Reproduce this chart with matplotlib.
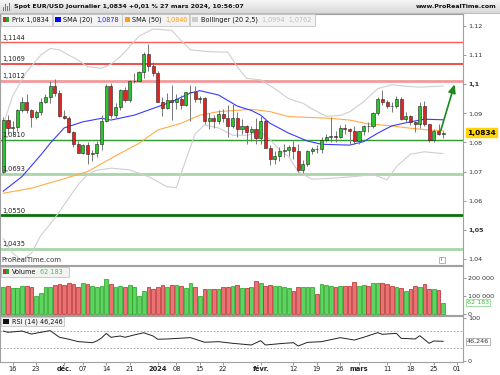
import matplotlib.pyplot as plt
import matplotlib.patches as mpatches
from matplotlib.colors import LinearSegmentedColormap
import numpy as np
import pandas as pd

plt.rcParams['font.family'] = ['DejaVu Sans']

# daily EUR/USD candles, 14 Nov 2023 -> 27 Mar 2024 (no 25 Dec / 1 Jan)
opens = [1.0700, 1.0878, 1.0849, 1.0852, 1.0912, 1.0940, 1.0910, 1.0888, 1.0905, 1.0940,
         1.0955, 1.0995, 1.0970, 1.0890, 1.0884, 1.0837, 1.0795, 1.0765, 1.0790, 1.0762,
         1.0765, 1.0795, 1.0875, 1.0993, 1.0895, 1.0922, 1.0980, 1.0945, 1.1010, 1.1012,
         1.1043, 1.1105, 1.1061, 1.1038, 1.0940, 1.0920, 1.0946, 1.0940, 1.0950, 1.0930,
         1.0972, 1.0975, 1.0950, 1.0952, 1.0875, 1.0885, 1.0875, 1.0897, 1.0885, 1.0855,
         1.0885, 1.0845, 1.0855, 1.0835, 1.0845, 1.0815, 1.0873, 1.0780, 1.0742, 1.0755,
         1.0772, 1.0775, 1.0785, 1.0772, 1.0707, 1.0727, 1.0772, 1.0777, 1.0777, 1.0808,
         1.0820, 1.0823, 1.0820, 1.0850, 1.0845, 1.0838, 1.0805, 1.0838, 1.0855, 1.0855,
         1.0900, 1.0948, 1.0938, 1.0927, 1.0925, 1.0950, 1.0880, 1.0890, 1.0870, 1.0865,
         1.0925, 1.0862, 1.0808, 1.0838, 1.0830]
highs = [1.0887, 1.0895, 1.0875, 1.0915, 1.0956, 1.0965, 1.0915, 1.0910, 1.0953, 1.0965,
         1.1010, 1.1017, 1.0980, 1.0910, 1.0890, 1.0840, 1.0805, 1.0795, 1.0800, 1.0775,
         1.0805, 1.0895, 1.1000, 1.1005, 1.0935, 1.0985, 1.0990, 1.1015, 1.1040, 1.1045,
         1.1112, 1.1139, 1.1078, 1.1045, 1.0955, 1.0970, 1.0998, 1.0965, 1.0962, 1.0975,
         1.0998, 1.0995, 1.0960, 1.0957, 1.0900, 1.0895, 1.0910, 1.0915, 1.0930, 1.0932,
         1.0905, 1.0880, 1.0860, 1.0855, 1.0885, 1.0890, 1.0885, 1.0790, 1.0770, 1.0785,
         1.0795, 1.0790, 1.0805, 1.0795, 1.0740, 1.0775, 1.0785, 1.0790, 1.0820, 1.0830,
         1.0888, 1.0840, 1.0860, 1.0865, 1.0850, 1.0855, 1.0840, 1.0860, 1.0870, 1.0905,
         1.0955, 1.0981, 1.0945, 1.0940, 1.0960, 1.0955, 1.0905, 1.0895, 1.0875, 1.0940,
         1.0942, 1.0865, 1.0845, 1.0865, 1.0838]
lows = [1.0694, 1.0828, 1.0830, 1.0840, 1.0905, 1.0902, 1.0852, 1.0880, 1.0895, 1.0935,
        1.0935, 1.0960, 1.0888, 1.0880, 1.0832, 1.0785, 1.0765, 1.0760, 1.0725, 1.0735,
        1.0750, 1.0775, 1.0870, 1.0885, 1.0885, 1.0910, 1.0940, 1.0940, 1.1005, 1.1010,
        1.1020, 1.1046, 1.1030, 1.0940, 1.0892, 1.0915, 1.0876, 1.0915, 1.0915, 1.0925,
        1.0875, 1.0940, 1.0935, 1.0865, 1.0845, 1.0850, 1.0865, 1.0870, 1.0820, 1.0850,
        1.0820, 1.0830, 1.0795, 1.0805, 1.0795, 1.0795, 1.0780, 1.0723, 1.0725, 1.0735,
        1.0750, 1.0755, 1.0745, 1.0700, 1.0695, 1.0720, 1.0760, 1.0765, 1.0765, 1.0800,
        1.0800, 1.0800, 1.0815, 1.0830, 1.0795, 1.0795, 1.0795, 1.0825, 1.0835, 1.0850,
        1.0895, 1.0930, 1.0920, 1.0905, 1.0920, 1.0878, 1.0870, 1.0860, 1.0835, 1.0850,
        1.0857, 1.0802, 1.0800, 1.0825, 1.0815]
closes = [1.0878, 1.0849, 1.0852, 1.0912, 1.0940, 1.0910, 1.0888, 1.0905, 1.0940, 1.0955,
          1.0995, 1.0970, 1.0890, 1.0884, 1.0837, 1.0795, 1.0765, 1.0790, 1.0762, 1.0765,
          1.0795, 1.0875, 1.0993, 1.0895, 1.0922, 1.0980, 1.0945, 1.1010, 1.1012, 1.1043,
          1.1105, 1.1061, 1.1038, 1.0940, 1.0920, 1.0946, 1.0940, 1.0950, 1.0930, 1.0972,
          1.0975, 1.0950, 1.0952, 1.0875, 1.0885, 1.0875, 1.0897, 1.0885, 1.0855, 1.0885,
          1.0845, 1.0855, 1.0835, 1.0845, 1.0815, 1.0873, 1.0780, 1.0742, 1.0755, 1.0772,
          1.0775, 1.0785, 1.0772, 1.0707, 1.0727, 1.0772, 1.0777, 1.0777, 1.0808, 1.0820,
          1.0823, 1.0820, 1.0850, 1.0845, 1.0838, 1.0805, 1.0838, 1.0855, 1.0855, 1.0900,
          1.0948, 1.0938, 1.0927, 1.0925, 1.0950, 1.0880, 1.0890, 1.0870, 1.0865, 1.0925,
          1.0862, 1.0808, 1.0838, 1.0830, 1.0834]
volumes = [150, 157, 144, 144, 157, 159, 150, 103, 119, 153,
           153, 164, 168, 162, 172, 168, 150, 172, 168, 157,
           153, 159, 194, 168, 150, 157, 150, 162, 150, 101,
           127, 153, 140, 153, 162, 153, 162, 162, 157, 144,
           172, 150, 103, 140, 140, 140, 140, 153, 153, 159,
           161, 144, 144, 150, 187, 175, 157, 161, 159, 159,
           150, 144, 131, 150, 150, 150, 150, 112, 166, 164,
           159, 150, 155, 157, 157, 181, 157, 164, 159, 175,
           172, 172, 168, 159, 150, 144, 131, 138, 157, 150,
           166, 138, 138, 134, 62.183]  # thousands

# indicator curves (bar index, value)
sma20_idx = [0, 4, 8, 10, 13, 17, 21, 23, 28, 32, 36, 40, 42, 46, 50, 53, 55, 57, 61, 65, 68, 74, 77, 80, 83, 87, 90, 94]
sma20_val = [1.0633, 1.0683, 1.0757, 1.0797, 1.0850, 1.0871, 1.0883, 1.0877, 1.0894, 1.0917,
             1.0940, 1.0970, 1.0978, 1.0963, 1.0925, 1.0910, 1.0894, 1.0866, 1.0832, 1.0805,
             1.0794, 1.0791, 1.0803, 1.0832, 1.0857, 1.0871, 1.0880, 1.0878]
sma50_idx = [0, 6, 12, 18, 25, 29, 33, 38, 42, 46, 53, 57, 61, 70, 74, 78, 83, 87, 91, 94]
sma50_val = [1.0626, 1.0643, 1.0671, 1.0700, 1.0763, 1.0797, 1.0843, 1.0866, 1.0894, 1.0906,
             1.0914, 1.0906, 1.0889, 1.0883, 1.0877, 1.0864, 1.0857, 1.0849, 1.0843, 1.0840]
bb_up_idx = [0, 2, 5, 8, 10, 12, 14, 16, 18, 21, 23, 25, 27, 29, 32, 36, 38, 40, 44, 48,
             50, 52, 55, 58, 61, 64, 66, 69, 72, 74, 77, 80, 83, 86, 89, 94]
bb_up_val = [1.0862, 1.0960, 1.1043, 1.1100, 1.1123, 1.1118, 1.1100, 1.1083, 1.1060, 1.1055,
             1.1069, 1.1095, 1.1129, 1.1165, 1.1190, 1.1185, 1.1150, 1.1118, 1.1112, 1.1110,
             1.1060, 1.1020, 1.1015, 1.0985, 1.0950, 1.0935, 1.0915, 1.0890, 1.0893, 1.0905,
             1.0940, 1.0985, 1.0998, 1.0993, 1.0990, 1.0994]
bb_lo_idx = [0, 2, 4, 6, 8, 10, 12, 14, 16, 18, 20, 23, 27, 31, 35, 37, 39, 41, 43, 46,
             49, 52, 55, 57, 59, 61, 63, 66, 70, 75, 79, 82, 84, 87, 90, 94]
bb_lo_val = [1.0470, 1.0420, 1.0395, 1.0420, 1.0480, 1.0520, 1.0562, 1.0610, 1.0655, 1.0690,
             1.0705, 1.0712, 1.0706, 1.0683, 1.0648, 1.0645, 1.0740, 1.0830, 1.0860, 1.0850,
             1.0825, 1.0825, 1.0835, 1.0810, 1.0775, 1.0751, 1.0700, 1.0674, 1.0677, 1.0683,
             1.0690, 1.0672, 1.0717, 1.0760, 1.0768, 1.0762]
rsi_idx = [0, 1, 4, 6, 8, 10, 12, 14, 16, 18, 19, 20, 21, 22, 23, 25, 26, 28, 30, 32,
           33, 35, 40, 43, 46, 49, 53, 55, 56, 60, 62, 63, 65, 68, 72, 75, 77, 80, 81, 84,
           85, 88, 89, 91, 92, 94]
rsi_val = [70, 67, 70, 63, 67, 71, 55.5, 51, 45.5, 44, 43, 47, 54, 64.6, 55.5, 58.5, 55.5, 61, 66, 58.5,
           51, 51.6, 54.7, 44, 45.4, 41.6, 37.7, 47.7, 37.7, 41.6, 43, 35.4, 43.8, 45.4, 54.7, 49.2, 55.5, 66.2, 62.4, 64.6,
           53.2, 51.6, 59.2, 41.6, 47, 46.2]

levels = [1.1144, 1.1069, 1.1012, 1.0810, 1.0693, 1.0550, 1.0435]
level_labels = ['1,1144', '1,1069', '1,1012', '1,0810', '1,0693', '1,0550', '1,0435']
level_colors = ['#ff5a5a', '#ee3030', '#f29a9a', '#2f9a2f', '#a9d6a9', '#0b720b', '#a9d6a9']
level_widths = [1.0, 1.2, 2.0, 1.0, 2.0, 2.0, 2.0]

price_ticks = [1.04, 1.05, 1.06, 1.07, 1.08, 1.09, 1.10, 1.11, 1.12]
price_tick_labels = ['1,04', '1,05', '1,06', '1,07', '1,08', '1,09', '1,1', '1,11', '1,12']

day_labels = {'2023-11-16': '16', '2023-11-23': '23', '2023-12-01': 'déc.', '2023-12-07': '07',
              '2023-12-14': '14', '2023-12-21': '21', '2024-01-02': '2024', '2024-01-08': '08',
              '2024-01-15': '15', '2024-01-22': '22', '2024-02-01': 'févr.', '2024-02-12': '12',
              '2024-02-19': '19', '2024-02-26': '26', '2024-03-01': 'mars', '2024-03-11': '11',
              '2024-03-18': '18', '2024-03-25': '25', '2024-04-01': '01'}

days = pd.bdate_range('2023-11-14', '2024-04-05')
days = days[~days.isin(pd.to_datetime(['2023-12-25', '2024-01-01']))]

W, H = 500, 375


def box(x0, y0, x1, y1):
    return [x0 / W, 1 - y1 / H, (x1 - x0) / W, (y1 - y0) / H]


fig = plt.figure(figsize=(5, 3.75), dpi=100)
fig.patch.set_facecolor('white')

ax = fig.add_axes(box(0, 14, 463, 265))
axv = fig.add_axes(box(0, 266, 463, 315), sharex=ax)
axr = fig.add_axes(box(0, 316, 463, 362), sharex=ax)

idx = np.arange(len(closes))
o = np.array(opens)
c = np.array(closes)
up = c > o
lo = np.minimum(o, c)
hgt = np.maximum(np.abs(c - o), 0.00016)

for a in (ax, axv, axr):
    for s in a.spines.values():
        s.set_color('#a0a0a0')
        s.set_linewidth(0.8)
    a.yaxis.tick_right()
    a.tick_params(axis='y', length=2, width=0.6, colors='#888888', labelcolor='#333333',
                  labelsize=4.6, pad=1.5)
    a.tick_params(axis='x', bottom=False, labelbottom=False)

# price panel
for lv, lc, lw, lb in zip(levels, level_colors, level_widths, level_labels):
    ax.axhline(lv, color=lc, lw=lw, zorder=1)
    ax.text(-0.3, lv + 0.0006, lb, fontsize=4.8, color='#222222', va='bottom', ha='left', zorder=6)

ax.plot(bb_up_idx, bb_up_val, color='#cfcfcf', lw=0.8, zorder=2)
ax.plot(bb_lo_idx, bb_lo_val, color='#cfcfcf', lw=0.8, zorder=2)
ax.plot(sma50_idx, sma50_val, color='#ffac4a', lw=0.8, zorder=2)
ax.plot(sma20_idx, sma20_val, color='#3a3aff', lw=0.8, zorder=2)

ax.vlines(idx, lows, highs, color='#777777', lw=0.7, zorder=3)
ax.bar(idx[up], hgt[up], bottom=lo[up], width=0.66, color='#2ec22e', edgecolor='#222222', lw=0.4, zorder=4)
ax.bar(idx[~up], hgt[~up], bottom=lo[~up], width=0.66, color='#e02424', edgecolor='#222222', lw=0.4, zorder=4)

ax.annotate('', xy=(96.6, 1.1009), xytext=(93.3, 1.0832),
            arrowprops=dict(arrowstyle='-|>,head_length=0.5,head_width=0.22', color='#1a8a1a', lw=1.2),
            zorder=7)

ax.set_xlim(-0.705, 98.23)
ax.set_ylim(1.03794, 1.12412)
ax.set_yticks(price_ticks, price_tick_labels)
for t in ax.get_yticklabels():
    if t.get_text() in ('1,1', '1,05'):
        t.set_fontweight('bold')
ax.annotate('1,0834', xy=(1.0, closes[-1]), xycoords=('axes fraction', 'data'),
            xytext=(3, 0), textcoords='offset points', fontsize=5.3, fontweight='bold',
            va='center', ha='left', annotation_clip=False,
            bbox=dict(boxstyle='square,pad=0.15', fc='#ffd400', ec='#ffd400'))
ax.text(0.004, 0.012, 'ProRealTime.com', transform=ax.transAxes, fontsize=5, color='#333333')

# volume panel
vol = np.array(volumes) * 1000
axv.bar(idx[up], vol[up], width=0.8, color='#5fd35f', edgecolor='#1f9f1f', lw=0.5)
axv.bar(idx[~up], vol[~up], width=0.8, color='#eb7272', edgecolor='#b52727', lw=0.5)
axv.set_ylim(-5600, 268900)
axv.set_yticks([0, 100000, 200000], ['0', '100 000', '200 000'])
axv.annotate('62 183', xy=(1.0, vol[-1]), xycoords=('axes fraction', 'data'),
             xytext=(3, 0), textcoords='offset points', fontsize=4.6, color='#3bbf3b',
             va='center', ha='left', annotation_clip=False,
             bbox=dict(boxstyle='square,pad=0.15', fc='white', ec='#8fdc8f', lw=0.6))

# RSI panel
axr.axhline(70, color='#999999', lw=0.6, ls=(0, (2, 2)))
axr.axhline(30, color='#999999', lw=0.6, ls=(0, (2, 2)))
axr.plot(rsi_idx, rsi_val, color='#222222', lw=0.7)
axr.set_ylim(-1.6, 104.7)
axr.set_yticks([0, 100], ['0', '100'])
axr.annotate('46,246', xy=(1.0, rsi_val[-1]), xycoords=('axes fraction', 'data'),
             xytext=(3, 0), textcoords='offset points', fontsize=4.6, color='#333333',
             va='center', ha='left', annotation_clip=False,
             bbox=dict(boxstyle='square,pad=0.15', fc='white', ec='#aaaaaa', lw=0.6))

tick_pos = [days.get_loc(pd.Timestamp(d)) for d in day_labels]
axr.set_xticks(tick_pos, list(day_labels.values()))
axr.tick_params(axis='x', bottom=True, labelbottom=True, length=2, width=0.6,
                colors='#888888', labelcolor='#222222', labelsize=4.8, pad=1)
for t in axr.get_xticklabels():
    if not t.get_text().isdigit() or t.get_text() == '2024':
        t.set_fontweight('bold')

# header and legend boxes, drawn in pixel coordinates
ov = fig.add_axes([0, 0, 1, 1], zorder=10)
ov.set_xlim(0, W)
ov.set_ylim(H, 0)
ov.axis('off')
ov.patch.set_alpha(0)

head_cmap = LinearSegmentedColormap.from_list('head', ['#f6f6f6', '#d9d9d9'])
grad = np.linspace(0, 1, 20).reshape(-1, 1)
ov.imshow(grad, extent=(0, W, 13, 0), aspect='auto', cmap=head_cmap, zorder=0)
ov.plot([0, W], [13, 13], color='#b0b0b0', lw=0.6)
for k, hh in enumerate([4, 7, 5, 8]):
    ov.add_patch(mpatches.Rectangle((2.5 + k * 2, 11 - hh), 1.2, hh, color='#4a7fd0', lw=0))
ov.text(14, 6.8, 'Spot EUR/USD Journalier 1,0834 +0,01 % 27 mars 2024, 10:56:07',
        fontsize=4.5, fontweight='bold', va='center', color='#111111')
ov.text(497, 6.8, 'www.ProRealTime.com', fontsize=4.5, fontweight='bold', va='center',
        ha='right', color='#111111')


def legend_box(x0, x1, y0, y1):
    ov.add_patch(mpatches.Rectangle((x0, y0), x1 - x0, y1 - y0, fc='#f3f3f3', ec='#c4c4c4', lw=0.6))


def swatch(x, y, colors):
    n = len(colors)
    for k, col in enumerate(colors):
        ov.add_patch(mpatches.Rectangle((x + k * 5.5 / n, y), 5.5 / n, 5.5, color=col, lw=0))


ly = 19.6
fs = 4.7
legend_box(1, 52, 14, 25.5)
swatch(3.3, 16.8, ['#d42a2a', '#2aa62a'])
ov.text(11.5, ly, 'Prix 1,0834', fontsize=fs, va='center', color='#111111')
legend_box(52.5, 121.5, 14, 25.5)
swatch(55, 16.8, ['#0000ff'])
ov.text(63, ly, 'SMA (20)', fontsize=fs, va='center', color='#111111')
ov.text(96.5, ly, '1,0878', fontsize=fs, va='center', color='#1c1cff')
legend_box(122, 189, 14, 25.5)
swatch(124.5, 16.8, ['#ff9a1a'])
ov.text(132.5, ly, 'SMA (50)', fontsize=fs, va='center', color='#111111')
ov.text(165.5, ly, '1,0840', fontsize=fs, va='center', color='#ff9a1a')
legend_box(189.5, 315, 14, 25.5)
swatch(192, 16.8, ['#cccccc'])
ov.text(201, ly, 'Bollinger (20 2,5)', fontsize=fs, va='center', color='#111111')
ov.text(262, ly, '1,0994  1,0762', fontsize=fs, va='center', color='#bdbdbd')

legend_box(1, 69, 266.5, 276.5)
swatch(3.3, 268.8, ['#d42a2a', '#2aa62a'])
ov.text(11.5, 271.6, 'Volume', fontsize=fs, va='center', color='#111111')
ov.text(40, 271.6, '62 183', fontsize=fs, va='center', color='#44c444')

legend_box(1, 64, 316.5, 326)
swatch(3.3, 318.5, ['#111111'])
ov.text(11.5, 321.3, 'RSI (14) 46,246', fontsize=fs, va='center', color='#111111')

ov.add_patch(mpatches.Rectangle((438.5, 256.5), 6, 6.5, fc='white', ec='#999999', lw=0.5))
ov.text(441.5, 259.8, 'i', fontsize=4, ha='center', va='center', color='#555555')

fig.savefig('out.png', dpi=100)
